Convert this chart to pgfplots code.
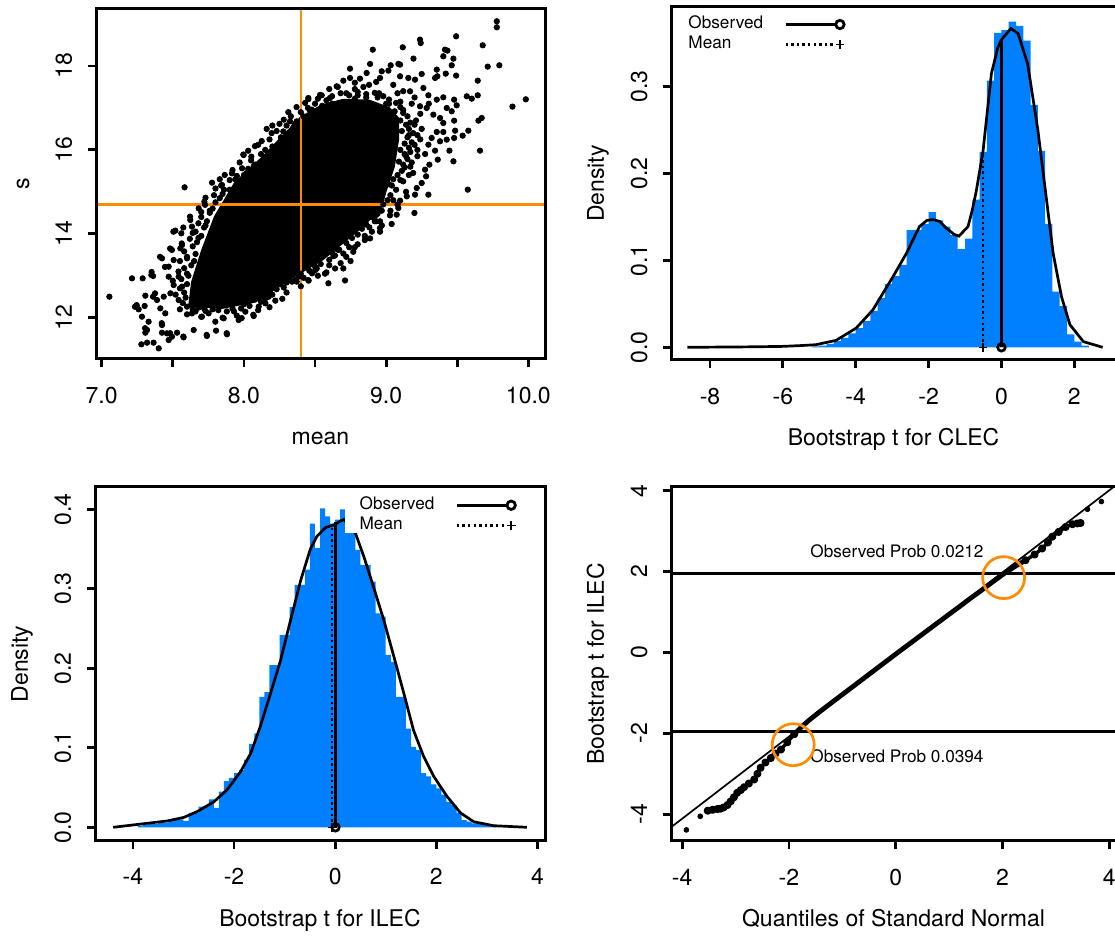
\documentclass[border=0pt]{standalone}
\usepackage{pgfplots}
\pgfplotsset{compat=1.18}
\usepackage{fontspec}
\setmainfont{TeX Gyre Heros}
\definecolor{histblue}{RGB}{0,128,255}
\definecolor{rorange}{RGB}{255,140,0}
\pgfplotsset{
  rstyle/.style={
    scale only axis,
    anchor=south west,
    axis on top,
    axis line style={line width=1.5pt},
    every outer x axis line/.append style={line width=1.5pt},
    every outer y axis line/.append style={line width=1.5pt},
    tick style={line width=1.4pt, black},
    major tick length=4.2pt,
    tick align=outside,
    xtick pos=left, ytick pos=left,
    /pgf/number format/assume math mode=true,
    tick label style={font=\fontsize{11.5}{13}\selectfont},
    label style={font=\fontsize{11.5}{13}\selectfont},
    xticklabel style={anchor=north, inner sep=0pt, yshift=-9.5pt},
    yticklabel style={xshift=-7.8pt, rotate=90, anchor=base, inner sep=0pt},
    xlabel style={at={(axis description cs:0.5,0)}, anchor=base, yshift=-43pt, inner sep=0pt},
    legend cell align=left,
    legend plot pos=right,
  },
  rleg/.style={
    legend style={anchor=north west, draw=none, fill=none, inner sep=0pt,
      font=\fontsize{8.6}{10}\selectfont,
      nodes={inner sep=0.5pt, text height=6.2pt, text depth=1.8pt},
      row sep=1pt, column sep=10pt},
  },
  obsimg/.style={legend image code/.code={
      \draw[line width=1.4pt] (0pt,0pt) -- (25pt,0pt);
      \draw[line width=1.4pt, fill=white] (27.2pt,0pt) circle (2.1pt);}},
  meanimg/.style={legend image code/.code={
      \draw[line width=1.4pt, dash pattern=on 1.2pt off 1.6pt] (0pt,0pt) -- (25pt,0pt);
      \draw[line width=0.7pt] (25pt,0pt) -- (29.4pt,0pt) (27.2pt,-2.2pt) -- (27.2pt,2.2pt);}},
}
\begin{document}
\begin{tikzpicture}
\useasboundingbox (0,0) rectangle (557.5pt,468.5pt);

% ---------------- Panel 1: scatter ----------------
\begin{axis}[rstyle, at={(48pt,289pt)}, width=224.5pt, height=175.35pt,
  xmin=6.96, xmax=10.117, ymin=11.016, ymax=19.375,
  xtick={7,7.5,8,8.5,9,9.5,10}, xticklabels={7.0,,8.0,,9.0,,10.0},
  ytick={12,14,16,18}, yticklabels={12,14,16,18},
  xlabel={mean}, ylabel={s},
  ylabel style={at={(axis description cs:-0.1492,0.5)}, anchor=base}]
\addplot[fill=black, draw=black, line width=1.6pt, line join=round] coordinates {
(7.62,12.30) (7.64,12.85) (7.71,13.60) (7.80,14.40) (7.94,15.20) (8.13,15.80)
(8.30,16.40) (8.40,16.75) (8.55,17.05) (8.70,17.18) (8.88,17.16) (9.02,16.98)
(9.08,16.75) (9.08,16.25) (9.05,15.60) (8.99,15.00) (8.96,14.60) (8.80,14.10)
(8.55,13.40) (8.34,12.98) (8.08,12.40) (7.85,12.25)} -- cycle;
\addplot[only marks, mark=*, mark size=1.35pt, mark options={draw=none, fill=black}] coordinates {
(7.054,12.501) (7.213,12.938) (7.288,12.938) (7.349,13.018) (7.361,12.994) (7.307,12.525)
(7.361,12.501) (7.244,12.279) (7.260,12.200) (7.302,12.279) (7.283,12.025) (7.330,11.905)
(7.319,11.707) (7.307,11.643) (7.279,11.365) (7.319,11.405) (7.365,11.405) (7.401,11.270)
(7.424,11.826) (7.424,11.643) (7.459,11.627) (7.471,11.468) (7.494,11.548) (7.530,11.643)
(7.576,11.532) (7.647,11.707) (7.740,11.564) (7.804,11.691) (7.881,11.604) (7.858,11.985)
(8.069,12.041) (8.104,12.263) (8.221,12.406) (7.389,12.422) (7.412,12.223) (7.447,12.104)
(7.436,12.501) (7.483,12.581) (7.506,12.779) (7.471,12.978) (7.471,13.216) (7.506,13.375)
(7.494,13.614) (7.553,13.654) (7.518,14.075) (7.560,14.011) (7.623,14.329) (7.635,14.170)
(7.682,14.607) (7.722,14.766) (7.583,15.108) (7.776,15.219) (7.846,15.163) (7.865,15.402)
(7.916,15.441) (7.940,15.298) (7.987,15.561) (7.998,15.878) (8.052,15.839) (8.116,15.680)
(8.198,15.918) (7.424,13.415) (7.600,13.415) (7.565,13.733) (7.541,12.978) (7.565,12.740)
(7.541,12.422) (7.600,12.263) (7.635,12.104) (7.705,12.025) (7.752,12.104) (7.799,11.905)
(7.963,11.945) (8.010,12.144) (8.151,12.343) (8.174,12.501) (8.338,12.859) (8.385,12.978)
(8.455,12.883) (8.479,13.058) (8.502,13.137) (8.432,13.375)
(7.410,13.45) (7.481,13.65) (7.563,13.77) (7.445,13.21) (7.351,13.09) (7.375,12.58)
(7.246,12.30) (7.234,12.26) (7.305,11.75) (7.422,11.87) (7.481,11.63) (7.574,11.55)
(7.738,11.59) (7.879,11.63) (7.984,11.99) (8.066,12.07) (7.727,14.69) (7.621,14.41)
(7.574,14.15) (7.504,14.05)
(8.594,12.82) (8.711,12.888) (8.641,13.174) (8.699,13.174) (8.570,13.05) (8.512,13.174)
(8.453,12.896) (8.371,12.86) (8.769,13.57) (8.699,13.53) (8.629,13.47) (8.887,13.89)
(8.957,14.05) (8.80,13.75) (8.85,13.95) (8.75,13.35) (8.60,13.25) (8.66,13.62) (8.93,14.30)
(8.312,16.90) (8.453,17.21) (8.535,17.31) (8.418,16.80) (8.465,16.93) (8.324,16.68)
(8.195,16.40) (8.125,16.21) (8.078,16.09) (7.996,15.89) (8.277,16.44) (8.371,16.68)
(8.25,16.62) (8.16,16.50)
(9.778,19.065) (9.778,18.922) (9.492,18.707) (9.679,18.493) (9.238,18.628) (9.243,18.548)
(9.117,18.445) (8.906,18.389) (9.414,18.389) (9.431,18.366) (9.192,18.175) (9.402,18.231)
(9.473,18.175) (8.887,18.048) (9.086,18.048) (9.032,18.016) (8.746,17.936) (9.461,18.016)
(9.356,17.913) (9.250,17.809) (9.714,17.984) (9.796,18.016) (9.492,17.770) (9.419,17.817)
(9.344,17.714) (9.360,17.754) (9.644,17.650) (9.567,17.277) (9.602,17.221) (9.644,17.301)
(9.888,17.031) (9.982,17.205) (9.478,17.197) (9.496,17.062) (9.426,16.999) (9.461,16.920)
(9.672,16.760) (9.649,16.697) (9.578,16.458) (9.538,16.339) (9.478,16.697) (9.402,16.641)
(9.485,16.458) (9.402,16.427) (9.356,16.427) (9.426,16.244) (9.379,16.204) (9.320,16.284)
(9.297,16.125) (9.478,16.284) (9.445,15.982) (9.660,15.982) (9.344,15.982) (9.274,15.902)
(9.363,15.767) (9.473,15.728) (9.304,15.648) (9.297,14.933) (9.203,14.933) (9.574,15.052)
(9.199,14.496) (9.074,14.456) (9.086,14.615) (9.027,14.440) (9.039,14.234) (8.957,14.297)
(8.969,14.551) (8.957,14.138) (8.882,14.154) (9.274,15.529) (9.281,15.370) (9.250,15.211)
(9.215,15.092) (9.145,14.893) (9.098,14.790) (8.453,17.237) (8.477,16.959) (8.547,17.301)
(8.605,17.237) (8.652,17.515) (8.699,17.650) (8.746,17.714) (8.816,17.698) (8.863,17.833)
(8.957,17.714) (8.969,17.873) (9.016,17.889) (9.098,17.754) (9.156,17.714) (9.203,17.674)
(9.262,17.476) (9.297,17.301) (9.356,17.197) (9.402,17.253) (9.238,17.039) (9.285,16.999)
(9.332,16.840) (9.379,16.760) (9.098,18.032) (9.168,17.396)
(8.60,17.45) (8.78,17.45) (8.88,17.55) (9.05,17.55) (9.12,17.40) (9.20,17.25) (9.30,17.10)
(8.72,17.35) (8.55,17.05) (9.10,17.15)
(7.58,12.60) (7.60,13.05) (7.65,13.35) (7.68,13.90) (7.73,14.20) (7.76,14.55) (7.85,14.95)
(7.90,15.05) (8.02,15.45) (8.08,15.65) (8.20,15.95) (8.25,16.15) (8.35,16.55) (8.48,16.85)
(8.62,17.10) (8.80,17.30) (8.95,17.35) (9.02,17.20) (9.12,16.95) (9.20,16.60) (9.22,16.00)
(9.18,15.70) (9.12,15.25) (9.05,14.80) (8.93,14.45) (8.85,14.25) (8.70,13.85) (8.62,13.55)
(8.45,13.20) (8.25,12.80) (8.18,12.62) (8.00,12.32) (7.93,12.15) (7.72,12.22) (7.66,12.15)
(7.70,12.45)
(7.57,12.35) (7.59,12.48) (7.55,12.70) (7.60,12.80) (7.56,12.92)
(7.61,13.00) (7.58,13.18) (7.63,13.25) (7.60,13.45) (7.66,13.52) (7.64,13.70)
(7.67,13.80) (7.70,13.95) (7.66,14.05) (7.72,14.15) (7.74,14.30) (7.70,14.40) (7.76,14.50)
(7.78,14.60) (7.80,14.75) (7.83,14.85) (7.79,14.92) (7.86,15.05) (7.84,15.15) (7.90,15.28)
(7.95,15.38) (8.00,15.40) (8.03,15.55) (8.07,15.62) (8.05,15.75) (8.12,15.90)
(8.15,16.00) (8.20,16.08) (8.18,16.25) (8.26,16.30) (8.23,16.45)
(8.30,16.58) (8.36,16.62) (8.33,16.80) (8.40,16.90)
(8.45,17.00) (8.50,17.10) (8.58,17.18) (8.62,17.28) (8.68,17.35)
(8.74,17.30) (8.80,17.38) (8.86,17.33) (8.92,17.36) (8.84,17.50)
(8.98,17.28) (9.02,17.10) (9.07,17.12) (9.10,17.02)
(9.12,16.88) (9.15,16.80) (9.17,16.65)
(9.16,16.50) (9.19,16.40) (9.15,16.30) (9.18,16.18)
(9.16,16.05) (9.13,15.90) (9.15,15.78) (9.12,15.65)
(9.11,15.50) (9.08,15.40) (9.10,15.28) (9.04,15.15) (9.07,15.05)
(9.03,14.92) (9.01,14.80) (8.98,14.70)
(8.94,14.48) (8.90,14.40) (8.92,14.30) (8.86,14.22) (8.83,14.12)
(8.80,13.98) (8.76,13.90) (8.72,13.78) (8.74,13.68) (8.67,13.62) (8.64,13.48) (8.60,13.38)
(8.54,13.28) (8.50,13.22) (8.46,13.12) (8.40,13.05) (8.42,12.95) (8.36,12.90)
(8.30,12.84) (8.28,12.72) (8.23,12.68) (8.20,12.55) (8.15,12.46) (8.12,12.38)
(8.04,12.28) (7.98,12.22) (7.92,12.22) (7.88,12.15) (7.82,12.18)
(7.78,12.20) (7.73,12.16) (7.68,12.24) (7.64,12.20)
(7.52,12.55) (7.50,12.88) (7.54,13.10) (7.55,13.35) (7.58,13.58) (7.62,13.88) (7.64,14.02)
(7.68,14.25) (7.70,14.52) (7.73,14.86) (7.80,15.08) (7.83,15.30) (7.92,15.52) (7.97,15.70)
(8.03,15.98) (8.10,16.12) (8.20,16.58) (8.28,16.72) (8.37,17.02) (8.43,17.12) (8.52,17.22)
(8.66,17.50) (8.78,17.60) (8.93,17.62) (9.08,17.35) (9.18,17.10) (9.24,16.86) (9.25,16.50)
(9.24,16.25) (9.22,15.85) (9.17,15.60) (9.19,15.45) (9.14,15.00) (9.08,14.70) (9.03,14.55)
(8.97,14.20) (8.90,14.05) (8.85,13.85) (8.78,13.68) (8.72,13.45) (8.68,13.30) (8.58,13.08)
(8.52,13.00) (8.40,12.75) (8.30,12.60) (8.27,12.45) (8.18,12.25) (8.10,12.18) (7.95,12.05)
(7.85,12.00) (7.70,12.02) (7.60,12.08) (7.55,12.20)
(9.10,16.70) (9.14,16.60) (9.11,16.45) (9.16,16.35) (9.13,16.15) (9.10,16.00) (9.17,15.95)
(9.20,16.12) (9.22,16.35) (9.21,16.70) (9.06,16.92) (9.00,17.10) (8.94,17.25) (8.86,17.25)
(8.78,17.22) (9.14,15.85) (9.09,15.72) (9.13,15.58) (9.16,15.40) (9.05,15.30) (9.02,15.18)};
\addplot[rorange, line width=1.35pt] coordinates {(8.4016,10) (8.4016,20)};
\addplot[rorange, line width=1.35pt] coordinates {(6,14.69) (11,14.69)};
\end{axis}

% ---------------- Panel 2: CLEC histogram ----------------
\begin{axis}[rstyle, rleg, at={(335.5pt,288.5pt)}, width=222.5pt, height=176.5pt,
  xmin=-9.07, xmax=3.145, ymin=-0.0146, ymax=0.3917,
  xtick={-8,-6,-4,-2,0,2}, xticklabels={-8,-6,-4,-2,0,2},
  ytick={0,0.1,0.2,0.3}, yticklabels={0.0,0.1,0.2,0.3},
  xlabel={Bootstrap t for CLEC}, ylabel={Density},
  ylabel style={at={(axis description cs:-0.1506,0.5)}, anchor=base},
  legend style={at={(axis description cs:0.036,0.977)}}]
\addplot[const plot, fill=histblue, draw=none, forget plot] coordinates {
(-5.2,0.001) (-5.0,0.002) (-4.8,0.004) (-4.6,0.007) (-4.4,0.011) (-4.2,0.016)
(-4.0,0.022) (-3.8,0.030) (-3.6,0.042) (-3.4,0.057) (-3.2,0.073) (-3.0,0.082)
(-2.8,0.095) (-2.6,0.135) (-2.4,0.135) (-2.2,0.142) (-2.0,0.1555) (-1.8,0.146)
(-1.6,0.139) (-1.4,0.129) (-1.2,0.113) (-1.0,0.125) (-0.8,0.170) (-0.6,0.225)
(-0.4,0.307) (-0.2,0.362) (0.0,0.365) (0.2,0.375) (0.4,0.370) (0.6,0.353)
(0.8,0.279) (1.0,0.226) (1.2,0.142) (1.4,0.064) (1.6,0.0475) (1.8,0.015)
(2.0,0.0065) (2.2,0.002) (2.4,0.002)} \closedcycle;
\addplot[black, line width=1.35pt, forget plot] coordinates {
(-8.62,0) (-7.0,0.0005) (-6.05,0.001) (-5.5,0.002) (-5.09,0.003) (-4.54,0.008)
(-3.99,0.022) (-3.53,0.043) (-2.98,0.081) (-2.61,0.108) (-2.25,0.139) (-2.05,0.146)
(-1.88,0.147) (-1.70,0.145) (-1.51,0.137) (-1.30,0.130) (-1.165,0.128) (-0.917,0.139)
(-0.80,0.158) (-0.69,0.180) (-0.505,0.226) (-0.275,0.315) (-0.10,0.345) (0,0.354)
(0.26,0.367) (0.46,0.361) (0.72,0.326) (1.0,0.25) (1.24,0.169) (1.42,0.108)
(1.65,0.058) (1.88,0.026) (2.25,0.0065) (2.78,0)};
\addplot[black, line width=1.35pt, forget plot] coordinates {(0,0) (0,0.354)};
\addplot[black, line width=1.35pt, dash pattern=on 1.2pt off 1.6pt, forget plot] coordinates {(-0.505,0) (-0.505,0.226)};
\addplot[only marks, mark=o, mark size=1.9pt, mark options={line width=1.35pt, black}, forget plot] coordinates {(0,0)};
\addplot[only marks, mark=+, mark size=2.2pt, mark options={line width=0.7pt, black}, forget plot] coordinates {(-0.505,0)};
\addlegendimage{obsimg}
\addlegendentry{Observed}
\addlegendimage{meanimg}
\addlegendentry{Mean}
\end{axis}

% ---------------- Panel 3: ILEC histogram ----------------
\begin{axis}[rstyle, rleg, at={(47.5pt,48.15pt)}, width=225pt, height=176.85pt,
  xmin=-4.75, xmax=4.15, ymin=-0.01686, ymax=0.428,
  xtick={-4,-2,0,2,4}, xticklabels={-4,-2,0,2,4},
  ytick={0,0.1,0.2,0.3,0.4}, yticklabels={0.0,0.1,0.2,0.3,0.4},
  xlabel={Bootstrap t for ILEC}, ylabel={Density},
  ylabel style={at={(axis description cs:-0.1489,0.5)}, anchor=base},
  legend style={at={(axis description cs:0.585,0.975)}}]
\addplot[const plot, fill=histblue, draw=none, forget plot] coordinates {
(-3.9,0.002) (-3.8,0.003) (-3.7,0.004) (-3.6,0.004) (-3.5,0.006) (-3.4,0.006)
(-3.3,0.010) (-3.2,0.010) (-3.1,0.010) (-3.0,0.008) (-2.9,0.018) (-2.8,0.018)
(-2.7,0.026) (-2.6,0.026) (-2.5,0.035) (-2.4,0.024) (-2.3,0.045) (-2.2,0.058)
(-2.1,0.062) (-2.0,0.068) (-1.9,0.072) (-1.8,0.085) (-1.7,0.105) (-1.6,0.118)
(-1.5,0.164) (-1.4,0.170) (-1.3,0.204) (-1.2,0.204) (-1.1,0.242) (-1.0,0.242)
(-0.9,0.277) (-0.8,0.305) (-0.7,0.305) (-0.6,0.324) (-0.5,0.382) (-0.4,0.351)
(-0.3,0.401) (-0.2,0.391) (-0.1,0.382) (0.0,0.387) (0.1,0.400) (0.2,0.371)
(0.3,0.371) (0.4,0.349) (0.5,0.330) (0.6,0.330) (0.7,0.309) (0.8,0.269)
(0.9,0.265) (1.0,0.217) (1.1,0.208) (1.2,0.164) (1.3,0.164) (1.4,0.124)
(1.5,0.101) (1.6,0.097) (1.7,0.068) (1.8,0.064) (1.9,0.054) (2.0,0.049)
(2.1,0.041) (2.2,0.032) (2.3,0.028) (2.4,0.018) (2.5,0.009) (2.6,0.007)
(2.7,0.005) (2.8,0.004) (2.9,0.003) (3.0,0.002) (3.1,0.001) (3.2,0.001)} \closedcycle;
\addplot[black, line width=1.35pt, forget plot] coordinates {
(-4.39,0) (-3.72,0.005) (-3.32,0.008) (-2.99,0.0125) (-2.73,0.0197) (-2.40,0.032)
(-2.14,0.047) (-1.87,0.070) (-1.67,0.093) (-1.48,0.127) (-1.28,0.168) (-1.08,0.210)
(-0.88,0.261) (-0.68,0.311) (-0.49,0.350) (-0.36,0.366) (-0.19,0.377) (0.0,0.381)
(0.1,0.385) (0.17,0.387) (0.25,0.382) (0.40,0.370) (0.57,0.340) (0.76,0.302)
(0.96,0.261) (1.16,0.215) (1.36,0.168) (1.55,0.122) (1.75,0.089) (1.95,0.064)
(2.21,0.039) (2.48,0.018) (2.74,0.007) (3.13,0.002) (3.79,0)};
\addplot[black, line width=1.35pt, dash pattern=on 1.2pt off 1.6pt, forget plot] coordinates {(-0.06,0) (-0.06,0.381)};
\addplot[black, line width=1.35pt, forget plot] coordinates {(0.006,0) (0.006,0.384)};
\addplot[only marks, mark=+, mark size=2.2pt, mark options={line width=0.7pt, black}, forget plot] coordinates {(-0.06,0)};
\addplot[only marks, mark=o, mark size=1.9pt, mark options={line width=1.35pt, black}, forget plot] coordinates {(0.006,0)};
\fill[white] (axis description cs:0.5556,1) rectangle (axis description cs:1,0.870);
\addlegendimage{obsimg}
\addlegendentry{Observed}
\addlegendimage{meanimg}
\addlegendentry{Mean}
\end{axis}

% ---------------- Panel 4: QQ plot ----------------
\begin{axis}[rstyle, at={(335.5pt,48pt)}, width=222.5pt, height=177pt,
  xmin=-4.208, xmax=4.124, ymin=-4.66, ymax=4.09,
  xtick={-4,-2,0,2,4}, xticklabels={-4,-2,0,2,4},
  ytick={-4,-2,0,2,4}, yticklabels={-4,-2,0,2,4},
  xlabel={Quantiles of Standard Normal}, ylabel={Bootstrap t for ILEC},
  ylabel style={at={(axis description cs:-0.1506,0.5)}, anchor=base}]
\addplot[black, line width=0.85pt] coordinates {(-4.4,-4.516) (4.3,4.3145)};
\addplot[black, line width=1.35pt] coordinates {(-5,1.96) (5,1.96)};
\addplot[black, line width=1.35pt] coordinates {(-5,-1.96) (5,-1.96)};
\addplot[black, line width=2.4pt, line join=round] coordinates {
(-1.90,-2.02) (-1.75,-1.82) (-1.6,-1.65) (-1.4,-1.44) (-1.2,-1.24) (-1.0,-1.04)
(-0.8,-0.84) (-0.6,-0.64) (-0.4,-0.44) (-0.2,-0.24) (0,-0.04) (0.2,0.157)
(0.4,0.354) (0.6,0.55) (0.8,0.748) (1.0,0.945) (1.2,1.14) (1.4,1.34)
(1.6,1.53) (1.8,1.73) (2.05,1.97) (2.25,2.14) (2.43,2.28)};
\addplot[black, line width=1.7pt, line join=round, mark=*, mark size=1.15pt, mark options={draw=none, fill=black}] coordinates {
(-3.52,-3.91) (-3.43,-3.89) (-3.34,-3.87) (-3.28,-3.86) (-3.22,-3.83) (-3.15,-3.77)
(-3.09,-3.68) (-3.03,-3.58) (-2.97,-3.47) (-2.90,-3.40) (-2.84,-3.33) (-2.75,-3.24)
(-2.65,-3.14) (-2.59,-3.00) (-2.53,-2.85) (-2.44,-2.72) (-2.34,-2.61) (-2.25,-2.50)
(-2.15,-2.40) (-2.03,-2.22) (-1.90,-2.02)};
\addplot[black, line width=1.7pt, line join=round, mark=*, mark size=1.15pt, mark options={draw=none, fill=black}] coordinates {
(2.43,2.28) (2.60,2.42) (2.74,2.57) (2.85,2.72) (2.93,2.86) (3.05,2.98)
(3.18,3.10) (3.31,3.17) (3.40,3.19) (3.46,3.20)};
\addplot[only marks, mark=*, mark size=1.2pt, mark options={draw=none, fill=black}] coordinates {
(-3.92,-4.386) (-3.66,-4.05) (3.59,3.54) (3.85,3.73)};
\addplot[only marks, mark=o, mark size=10.5pt, mark options={draw=rorange, line width=1.35pt, fill=none}] coordinates {(2.02,1.85) (-1.92,-2.28)};
\node[anchor=base west, inner sep=0pt, font=\fontsize{8.6}{10}\selectfont] at (axis cs:-1.605,2.344) {Observed Prob 0.0212};
\node[anchor=base west, inner sep=0pt, font=\fontsize{8.6}{10}\selectfont] at (axis cs:-1.605,-2.73) {Observed Prob 0.0394};
\end{axis}
\end{tikzpicture}
\end{document}
